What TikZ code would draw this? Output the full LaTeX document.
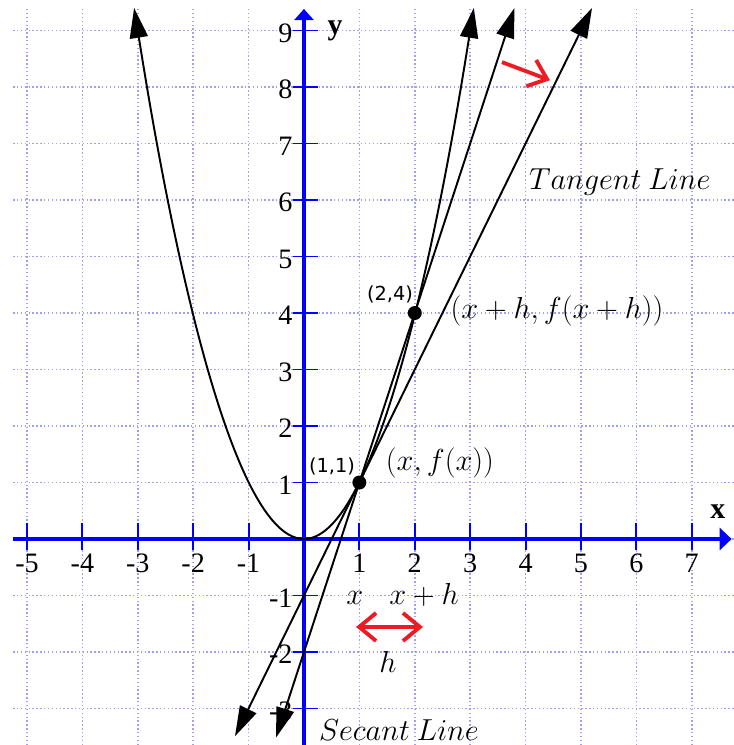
\documentclass[tikz,border=0pt]{standalone}
\usepackage{fontspec}
\setmainfont{Liberation Serif}
\newfontfamily\ptfont{DejaVu Sans}
\usetikzlibrary{arrows.meta}

\definecolor{gridblue}{RGB}{160,160,235}
\definecolor{axisblue}{RGB}{0,0,255}
\definecolor{markred}{RGB}{237,28,36}

\begin{document}
\begin{tikzpicture}[
        x=1.108cm, y=1.13cm,
        gridline/.style={gridblue, line width=0.9pt, dash pattern=on 0.8pt off 1.4pt},
        axis/.style={axisblue, line width=2.3pt},
        tick/.style={axisblue, line width=1.1pt},
        ticklbl/.style={font=\fontsize{16}{18}\selectfont, inner sep=0pt},
        axlbl/.style={font=\fontsize{17}{18}\selectfont\bfseries},
        curve/.style={line width=1.1pt, >={Triangle[length=0.6cm, width=0.36cm]}, <->},
        dot/.style={circle, fill=black, inner sep=0pt, minimum size=0.28cm},
        ptlbl/.style={font=\ptfont\fontsize{11}{12}\selectfont},
        mathlbl/.style={font=\fontsize{16}{18}\selectfont},
        redarr/.style={markred, line width=2.2pt, >={Straight Barb[length=0.34cm, width=0.56cm]}},
    ]
    \useasboundingbox (-5.487,-3.646) rectangle (7.762,9.540);

    % --- Siatka ---
    \draw[gridline, xstep=1.108cm, ystep=1.13cm] (-5.25,-3.646) grid (7.762,9.38);

    % --- Osie ---
    \draw[axis, -{Triangle[length=0.24cm, width=0.44cm]}] (-5.25,0) -- (7.72,0);
    \draw[axis, -{Triangle[length=0.22cm, width=0.38cm]}] (0,-3.646) -- (0,9.38);
    \foreach \i in {-5,...,-1,1,2,...,7} {
        \draw[tick] (\i,-0.2) -- (\i,0.28);
        \node[ticklbl, anchor=base] at (\i,-0.6) {\i};
    }
    \foreach \j in {-3,...,-1,1,2,...,9} {
        \draw[tick] (-0.2,\j) -- (0.25,\j);
        \node[ticklbl, anchor=base east] at (-0.2,\j-0.21) {\j};
    }
    \node[axlbl] (xlbl) at (7.47,0.48) {x};
    \node[axlbl] (ylbl) at (0.56,9.0) {y};

    % --- Parabola, sieczna, styczna ---
    \coordinate (O) at (0,0);
    \coordinate (parL) at (-3.066,9.4);
    \coordinate (parR) at (3.066,9.4);
    \coordinate (secA) at (-0.505,-3.515);
    \coordinate (secB) at (3.8,9.4);
    \coordinate (tanA) at (-1.245,-3.49);
    \coordinate (tanB) at (5.2,9.4);
    \draw[curve] (parL) parabola bend (O) (parR);
    \draw[curve] (secA) -- (secB);
    \draw[curve] (tanA) -- (tanB);

    % --- Punkty ---
    \node[dot] (p11) at (1,1) {};
    \node[dot] (p24) at (2,4) {};
    \node[ptlbl] (l11) at (0.505,1.29) {(1,1)};
    \node[ptlbl] (l24) at (1.552,4.32) {(2,4)};
    \node[mathlbl] (fx) at (2.455,1.345) {$(x, f(x))$};
    \node[mathlbl] (fxh) at (4.567,4.035) {$(x + h, f(x + h))$};
    \node[mathlbl] (tanlbl) at (5.70,6.32) {$Tangent\ Line$};
    \node[mathlbl] (seclbl) at (1.715,-3.38) {$Secant\ Line$};

    % --- Przyrost h ---
    \node[mathlbl, anchor=base] (xpos) at (0.92,-1.168) {$x$};
    \node[mathlbl, anchor=base] (xhpos) at (2.166,-1.168) {$x + h$};
    \coordinate (hA) at (0.94,-1.557);
    \coordinate (hB) at (2.148,-1.557);
    \draw[redarr, <->] (hA) -- (hB);
    \node[mathlbl, anchor=base] (hlbl) at (1.516,-2.37) {$h$};

    % --- Czerwona strzałka ---
    \coordinate (rA) at (3.574,8.44);
    \coordinate (rB) at (4.44,8.12);
    \draw[redarr, ->] (rA) -- (rB);
\end{tikzpicture}
\end{document}
